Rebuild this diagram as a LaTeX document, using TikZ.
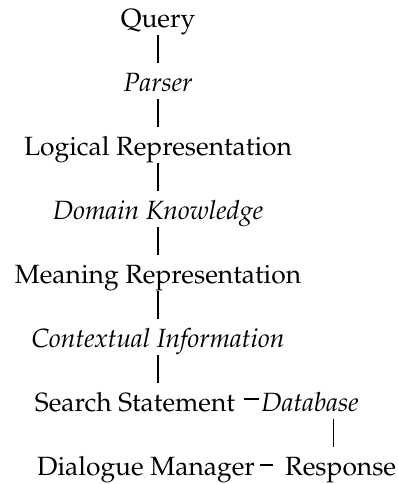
\documentclass[tikz,border=0pt]{standalone}
\usepackage[T1]{fontenc}
\usepackage{mathpazo}
\usetikzlibrary{positioning}

\begin{document}
\begin{tikzpicture}[x=1pt,y=1pt,node distance=64pt,line width=1.3pt]
        \tikzstyle{stage} = [inner sep=0pt, text height=18.5pt, text depth=6.6pt, font=\fontsize{26.4}{32}\selectfont]
        \tikzstyle{tool} = [stage, font=\fontsize{26.4}{32}\selectfont\itshape]
        \tikzstyle{link} = [shorten >=10pt]
        \tikzstyle{hbar} = [line width=1.9pt]

        \useasboundingbox (0,0) rectangle (397,-484);

        % Nodes
        \node[stage] (query) at (158,-22) {Query};
        \node[tool, below of=query] (parser) {Parser};
        \node[stage, below of=parser] (logical) {Logical Representation};
        \node[tool, below of=logical] (domain) {Domain Knowledge};
        \node[stage, below of=domain] (meaning) {Meaning Representation};
        \node[tool, below of=meaning] (context) {Contextual Information};
        \node[stage, below of=context, xshift=-23pt] (search) {Search Statement};
        \node[tool, right=25pt of search] (database) {Database};
        \node[stage, below of=search, xshift=11pt] (dialogue) {Dialogue Manager};
        \node[stage, right=29pt of dialogue] (response) {Response};

        % Edges
        \path (query) edge[link] (parser);
        \path (parser) edge[link] (logical);
        \path (logical) edge[link] (domain);
        \path (domain) edge[link] (meaning);
        \path (meaning) edge[link] (context);
        \path (context) edge[link] (context |- search.north);
        \draw[link] ([xshift=-7pt]response.north |- database.south) -- ([xshift=-7pt]response.north);
        \draw[hbar, shorten <=8pt, shorten >=2pt] ([yshift=13pt]search.base east) -- ([yshift=13pt]database.base west);
        \draw[hbar, shorten <=4pt, shorten >=12pt] ([yshift=11pt]dialogue.base east) -- ([yshift=11pt]response.base west);
    \end{tikzpicture}
\end{document}
